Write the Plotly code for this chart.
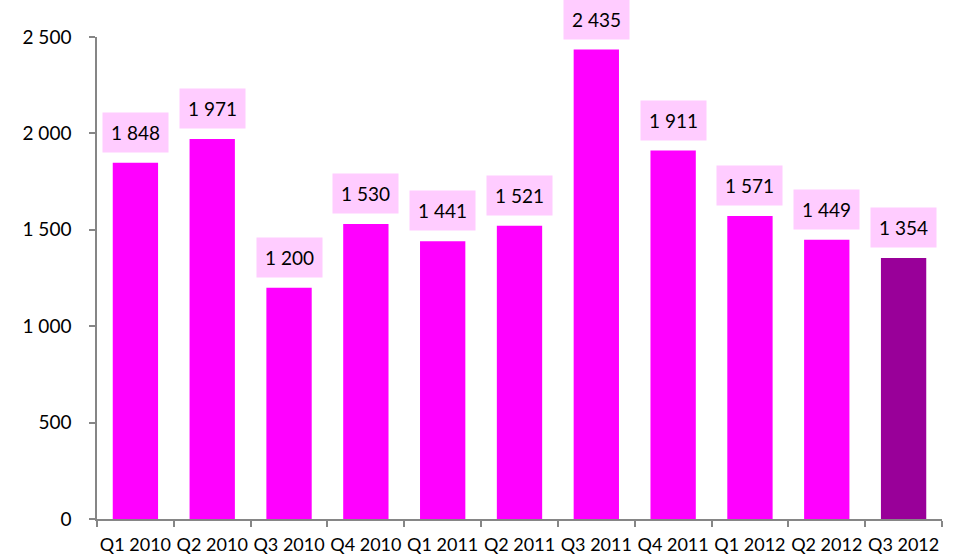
import plotly.graph_objects as go

categories = ["Q1 2010", "Q2 2010", "Q3 2010", "Q4 2010", "Q1 2011", "Q2 2011",
              "Q3 2011", "Q4 2011", "Q1 2012", "Q2 2012", "Q3 2012"]
values = [1848, 1971, 1200, 1530, 1441, 1521, 2435, 1911, 1571, 1449, 1354]
bar_colors = ["#FF00FF"] * 10 + ["#990099"]

FONT = "Lato"

def fmt(v):
    return f"{v:,}".replace(",", " ")

fig = go.Figure(go.Bar(x=categories, y=values, marker=dict(color=bar_colors, line=dict(width=0)),
                       hoverinfo="skip"))

for c, v in zip(categories, values):
    fig.add_annotation(x=c, y=v, text=fmt(v), showarrow=False, yanchor="bottom",
                       yshift=10, bgcolor="#FFCCFF", borderpad=8,
                       font=dict(family=FONT, size=19, color="#000000"))

fig.update_layout(
    width=957, height=556,
    margin=dict(l=97, r=15, t=37, b=37, autoexpand=False),
    paper_bgcolor="white", plot_bgcolor="white",
    bargap=0.41,
    showlegend=False,
    separators=", ",
    font=dict(family=FONT, size=18, color="#000000"),
)
fig.update_xaxes(showline=True, linecolor="#868686", linewidth=1.5,
                 ticks="outside", tickson="boundaries", ticklen=6, tickcolor="#868686",
                 tickwidth=1.5, tickangle=0, automargin=False, ticklabelstandoff=9,
                 tickfont=dict(family=FONT, size=18), showgrid=False)
fig.update_yaxes(range=[0, 2500], dtick=500, tickformat=",d", showline=True,
                 linecolor="#868686", linewidth=1.5, ticks="outside", ticklen=6,
                 tickcolor="#868686", tickwidth=1.5, showgrid=False, zeroline=False,
                 automargin=False, ticklabelstandoff=14,
                 tickfont=dict(family=FONT, size=19))

fig.write_html("out.html")
